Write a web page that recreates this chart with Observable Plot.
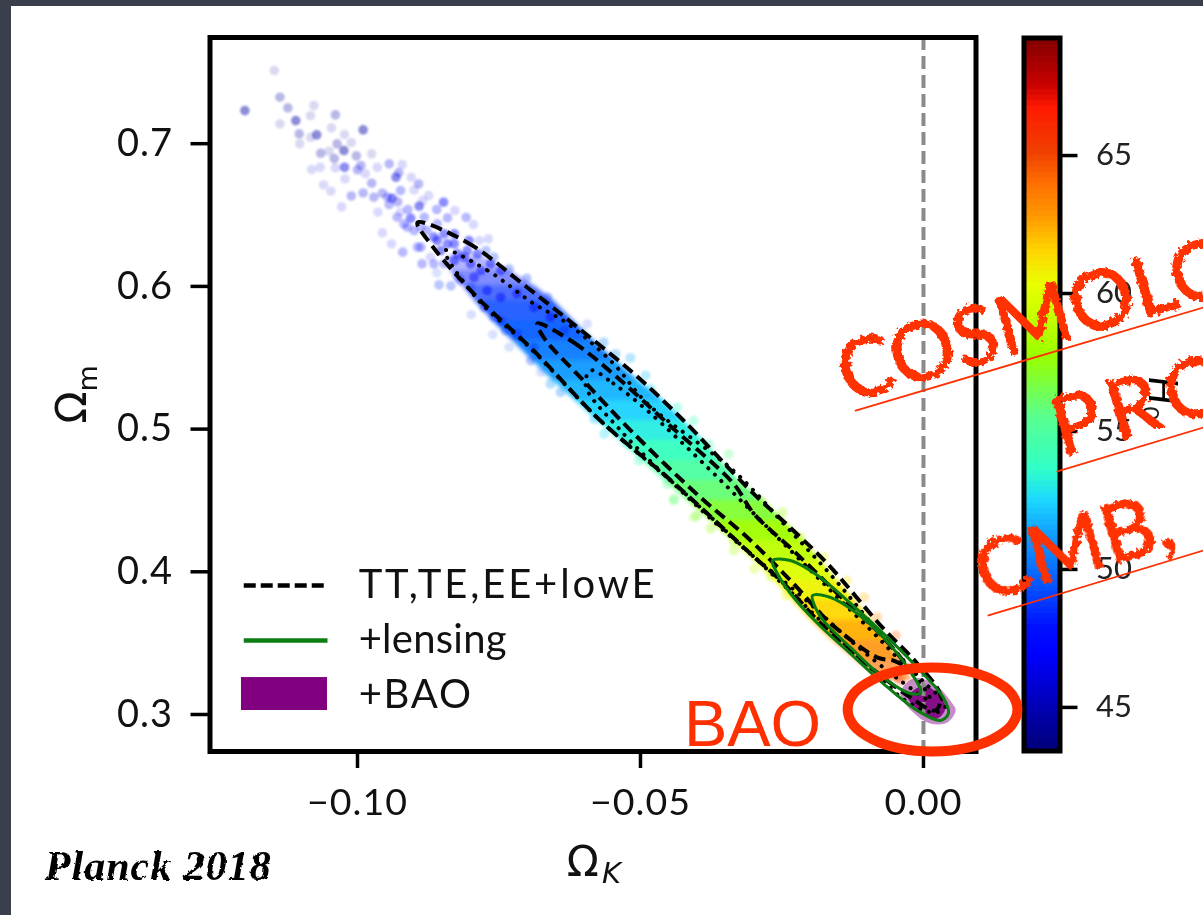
<!DOCTYPE html>
<html>
<head>
<meta charset="utf-8">
<script src="https://cdn.jsdelivr.net/npm/d3@7"></script>
<script src="https://cdn.jsdelivr.net/npm/@observablehq/plot@0.6"></script>
<style>
html,body{margin:0;padding:0;background:#3b3e4b;width:1203px;height:915px;overflow:hidden}
#sheet{position:absolute;left:11px;top:6px;right:0;bottom:0;background:#fff}
#bar,#main{position:absolute;left:0;top:0}
#bar svg,#main svg{display:block;background:transparent;filter:blur(.4px)}
</style>
</head>
<body>
<svg width="0" height="0" style="position:absolute">
  <filter id="rough" x="-10%" y="-30%" width="120%" height="160%">
    <feTurbulence type="fractalNoise" baseFrequency="0.22" numOctaves="2" seed="4"/>
    <feDisplacementMap in="SourceGraphic" scale="8"/>
  </filter>
  <filter id="ink" x="-5%" y="-20%" width="110%" height="140%">
    <feTurbulence type="fractalNoise" baseFrequency="0.2" numOctaves="2" seed="9"/>
    <feDisplacementMap in="SourceGraphic" scale="3"/>
  </filter>
</svg>
<div id="sheet"></div>
<div id="bar"></div>
<div id="main"></div>
<script>
// colour scale: Hubble-constant stops
const h0Stops = [43.55,46.8,47.8,49.9,51.2,52.4,53.5,55.4,57.57,60.2,61.45,62.64,63.84,65,66.63,67.46,69.17];
const h0Colors = ["#000080","#0000ff","#0010ff","#0870ff","#10a0ff","#1cd8ff","#30ffc8","#58ff90","#98ff00","#e8ff00","#ffd500","#ff9a00","#ff7000","#f04000","#ff1a00","#c80000","#800000"];
const h0Ticks = [45,50,55,60,65];
const xTicks = [-0.10,-0.05,0];
const yTicks = [0.3,0.4,0.5,0.6,0.7];

// sparse scatter, upper left: [Omega_K, Omega_m, weight class]
const dotsNavy = [[-.1147,.7513,1],[-.1137,.7326,2],[-.1199,.7232,3],[-.1123,.7251,2],[-.1077,.7267,1],[-.1039,.7202,2],[-.1109,.7162,3],[-.1083,.7197,1],[-.1137,.7139,1],[-.1046,.7111,1],[-.0990,.7097,3],[-.1103,.7069,2],[-.1072,.7062,3],[-.1023,.7064,1],[-.1083,.7045,1],[-.1102,.6999,1],[-.1036,.6999,2],[-.1011,.7008,1],[-.1024,.6952,3],[-.1065,.6933,2],[-.1002,.6915,2],[-.1041,.6896,2],[-.0975,.6929,1],[-.1050,.6947,1]];
const dotsIndigo = [[-.1023,.6835,3],[-.1081,.6819,1],[-.1066,.6835,1],[-.1039,.6831,1],[-.0994,.6847,2],[-.1000,.6817,2],[-.0944,.6859,2],[-.0921,.6854,1],[-.0965,.6835,1],[-.0927,.6798,2],[-.0932,.6765,3],[-.0986,.6789,1],[-.0905,.6765,1],[-.0892,.6718,2],[-.1060,.6711,1],[-.1022,.6753,1],[-.0975,.6723,2],[-.1047,.6667,1],[-.0990,.6655,2],[-.1011,.6634,2],[-.0956,.6653,2],[-.0939,.6618,3],[-.0971,.6625,2],[-.0900,.6676,1],[-.0929,.6592,2],[-.0891,.6562,3],[-.0874,.6637,1],[-.0885,.6602,1]];
const dotsBlue = [[-.0848,.6590,3],[-.0860,.6539,2],[-.1028,.6557,1],[-.0964,.6520,1],[-.0944,.6574,2],[-.0911,.6539,2],[-.0828,.6532,1],[-.0841,.6480,2],[-.0808,.6483,2],[-.0906,.6478,3],[-.0924,.6520,1],[-.0918,.6438,2],[-.0795,.6433,1],[-.0956,.6375,1],[-.0888,.6415,2],[-.0859,.6438,2],[-.0829,.6368,3],[-.0803,.6321,3],[-.0769,.6333,1],[-.0785,.6321,1],[-.0940,.6298,1],[-.0920,.6240,2],[-.0888,.6275,2],[-.0886,.6158,2],[-.0859,.6321,3],[-.0841,.6298,3],[-.0871,.6205,1],[-.0853,.6251,3],[-.0823,.6228,3],[-.0800,.6158,3]];
const dotsRoyal = [[-.0860,.6095,1],[-.0856,.6011,2],[-.0835,.6004,2],[-.0823,.6064,2],[-.0773,.6251,2],[-.0759,.6205,2],[-.0732,.6123,2],[-.0701,.6057,2],[-.0800,.5994,2],[-.0799,.5803,1],[-.0761,.5663,1],[-.0738,.5691,2],[-.0732,.5574,1],[-.0694,.5480,2],[-.0759,.5784,2],[-.0676,.5399,1],[-.0664,.5924,2],[-.0594,.5737,1]];
const dotsCore = [[-.0894,.6275,2],[-.0865,.6345,3],[-.0877,.6391,2],[-.0900,.6391,2],[-.0865,.6158,2],[-.0847,.6158,2],[-.0829,.6181,3],[-.0812,.6205,3],[-.0788,.6228,3],[-.0829,.6298,3],[-.0806,.6251,3],[-.0782,.6111,3],[-.0765,.6158,3],[-.0747,.6111,3],[-.0818,.6041,2],[-.0794,.6064,3],[-.0771,.5971,3],[-.0747,.5924,3],[-.0718,.5948,3],[-.0688,.5854,3],[-.0776,.5854,2],[-.0747,.5761,2],[-.0718,.5667,2],[-.0688,.5574,2],[-.0659,.5784,3],[-.0635,.5691,2],[-.0847,.6368,3],[-.0882,.6485,2],[-.0912,.6415,2],[-.0930,.6485,2],[-.0947,.6625,2],[-.0924,.6672,2]];
const haloWeights = [0,0.15,0.28,0.45];
const h0Navy = 44.6, h0Indigo = 46, h0Blue = 47, h0Royal = 48.6, h0Core = 47.2;

// edge dots of the band: [Omega_K, Omega_m, H0]
const edgeDots = [[-.0659,.5317,51],[-.0641,.5258,50.5],[-.0565,.5609,50.5],[-.0544,.5527,51],[-.0518,.5499,51.5],[-.0491,.5375,52],[-.0482,.5282,52.5],[-.0435,.5153,53.5],[-.0406,.5060,54],[-.0379,.4896,54.5],[-.0344,.4826,55.5],[-.0582,.5071,52],[-.0564,.4966,52.5],[-.0524,.4896,53],[-.0503,.4779,54],[-.0453,.4616,55],[-.0441,.4499,55.5],[-.0400,.4394,56.5],[-.0376,.4301,57.5],[-.0335,.4149,58],[-.0441,.4512,56],[-.0405,.4383,57],[-.0335,.4208,58],[-.0299,.4021,59],[-.0270,.3963,59.5],[-.0243,.3834,60.5],[-.0288,.4500,57.5],[-.0249,.4418,58],[-.0217,.4243,59],[-.0176,.4103,60],[-.0135,.3939,61],[-.0105,.3822,62],[-.0082,.3682,63],[-.0049,.3554,64],[-.0046,.3402,65],[-.0029,.3332,66],[-.0046,.3262,66],[-.0040,.3238,66]];

// dense band, one cross-section per row of these arrays
const bandM = [.6217,.6111,.6006,.5901,.5761,.5621,.5481,.5341,.5200,.5060,.4920,.4780,.4640,.4500,.4360,.4219,.4079,.3939,.3799,.3659,.3519,.3378,.3238];
const bandLeft = [-.0841,-.0836,-.0814,-.0793,-.0761,-.0726,-.0691,-.0655,-.0615,-.0576,-.0535,-.0496,-.0457,-.0417,-.0376,-.0337,-.0298,-.0263,-.0231,-.0198,-.0160,-.0118,-.0072];
const bandRight = [-.0782,-.0733,-.0689,-.0654,-.0619,-.0583,-.0543,-.0504,-.0459,-.0424,-.0389,-.0359,-.0327,-.0283,-.0247,-.0212,-.0182,-.0152,-.0121,-.0092,-.0064,-.0043,-.0019];
const bandH0 = [47.6,48,48.5,49,49.5,50.2,51,51.6,52.3,53,53.8,54.8,55.8,56.8,57.8,58.8,59.8,60.6,61.4,62.2,63,63.8,64.5];
const bandAlpha = [.3,.5,.7,.85,.95,.95,.95,.95,.95,.95,.95,.95,.95,.95,.95,.95,.95,.95,.95,.95,.85,.65,.35];

// confidence contours
const tt95K = [-.0894,-.0806,-.0700,-.0611,-.0512,-.0424,-.0306,-.0230,-.0170,-.0071,-.0011,.0030,.0021,-.0023,-.0071,-.0129,-.0187,-.0247,-.0306,-.0382,-.0452,-.0571,-.0689,-.0788,-.0866];
const tt95M = [.6448,.6308,.5992,.5712,.5390,.5060,.4570,.4289,.4058,.3603,.3357,.3133,.3028,.3119,.3259,.3448,.3659,.3918,.4128,.4409,.4661,.5060,.5551,.5922,.6273];
const tt68K = [-.0682,-.0618,-.0541,-.0452,-.0336,-.0300,-.0230,-.0152,-.0071,-.0032,-.0053,-.0081,-.0164,-.0230,-.0311,-.0394,-.0512,-.0601,-.0671];
const tt68M = [.5740,.5607,.5362,.5039,.4619,.4409,.4149,.3848,.3540,.3343,.3378,.3399,.3638,.3918,.4240,.4521,.4969,.5341,.5642];
const dot95K = [-.0845,-.0770,-.0689,-.0629,-.0548,-.0488,-.0336,-.0244,-.0155,-.0067,-.0002,.0039,.0021,-.0032,-.0085,-.0173,-.0261,-.0350,-.0447,-.0571,-.0694,-.0792];
const dot95M = [.6252,.6111,.5880,.5740,.5460,.5179,.4710,.4324,.3939,.3519,.3238,.3063,.3014,.3098,.3294,.3624,.3960,.4289,.4640,.5060,.5565,.5929];
const dot68K = [-.0588,-.0548,-.0488,-.0376,-.0270,-.0164,-.0067,.0004,.0012,-.0041,-.0129,-.0217,-.0323,-.0429,-.0535,-.0597];
const dot68M = [.5411,.5320,.5130,.4710,.4289,.3869,.3484,.3168,.3098,.3238,.3519,.3834,.4184,.4570,.4990,.5306];
const lens95K = [-.0267,-.0235,-.0187,-.0129,-.0071,-.0011,.0035,.0044,.0030,-.0011,-.0071,-.0129,-.0187,-.0235,-.0261];
const lens95M = [.4079,.4079,.3974,.3778,.3568,.3329,.3119,.3007,.2958,.3028,.3217,.3427,.3638,.3848,.4009];
const lens68K = [-.0196,-.0164,-.0117,-.0071,-.0028,-.0005,-.0023,-.0071,-.0129,-.0177,-.0194];
const lens68M = [.3834,.3820,.3708,.3540,.3329,.3154,.3147,.3259,.3470,.3659,.3778];
const bao95K = [-.0041,-.0018,.0018,.0051,.0057,.0042,.0012,-.0018];
const bao95M = [.3147,.3252,.3217,.3077,.3028,.2944,.2937,.3014];
const bao68K = [-.0027,0,.0025,.0039,.0025,0];
const bao68M = [.3119,.3203,.3147,.3049,.2972,.3007];

// hand annotation
const ringK = [.0166,.0155,.0122,.0073,.0016,-.0042,-.0090,-.0123,-.0134,-.0123,-.0090,-.0042,.0016,.0073,.0122,.0155];
const ringM = [.3035,.3148,.3243,.3307,.3329,.3307,.3243,.3148,.3035,.2922,.2827,.2763,.2741,.2763,.2827,.2922];
const underK = [[-.0120,.04947],[.02367,.04947],[.01148,.04947]];
const underM = [[.5130,.5852],[.4703,.5011],[.3694,.4149]];
const handWords = ["COSMOLO","PRO","CMB,"];
const handK = [.02010,.03920,.02668];
const handM = [.5760,.5165,.4163];
const handSpacing = [0,8,0];
const legendLabels = ["TT,TE,EE+lowE","+lensing","+BAO"];
const legendSpacing = [2.85,0.25,1.75];
const legendM = [.3904,.3519,.3133];
const legendLineK = [-.1201,-.1053];
const legendBoxK = [-.1205,-.1053];
const legendBoxM = [.3259,.3028];
const legendTextK = -.0998;
const creditText = "Planck 2018";

const red = "#ff3000", sans = "Lato", zip = (a,b) => a.map((v,i) => ({k:v, m:b[i]}));
const colorScale = {type:"linear", domain:h0Stops, range:h0Colors, clamp:true};
const triples = (rows,h) => rows.map(r => ({k:r[0], m:r[1], h, a:haloWeights[r[2]]}));
const sparse = [...triples(dotsNavy,h0Navy),...triples(dotsIndigo,h0Indigo),...triples(dotsBlue,h0Blue),...triples(dotsRoyal,h0Royal),...triples(dotsCore,h0Core)];
const bandRows = bandM.slice(0,-1).flatMap((_,i) => [i,i+1].map(j => ({seg:i, m:bandM[j], l:bandLeft[j], r:bandRight[j], h:bandH0[i], a:bandAlpha[i]})));
const legendLine = (m,opts) => Plot.line(legendLineK.map(k => ({k,m})),{x:"k",y:"m",...opts});
const closed = (k,m,opts) => Plot.line(zip(k,m),{x:"k",y:"m",curve:"catmull-rom-closed",...opts});
const spaced = (svg,label,px) => d3.select(svg).selectAll(`g[aria-label="${label}"] text`).style("letter-spacing",px+"px");
const spaceWord = (svg,word,px) => d3.select(svg).selectAll("text").filter(function(){return this.textContent===word;}).style("letter-spacing",px+"px");
const levels = d3.range(43.4,69.26,0.2);

// colour bar
const barPlot = Plot.plot({
  width:1203, height:915,
  marginLeft:1023.5, marginRight:143.5, marginTop:37.5, marginBottom:164.5,
  x:{domain:[0,1], axis:null},
  y:{domain:[43.42,69.26], label:null},
  color:colorScale,
  style:{fontFamily:sans, background:"transparent", color:"#222"},
  marks:[
    Plot.rect(levels,{x1:0,x2:1,y1:d=>d,y2:d=>Math.min(d+0.25,69.26),fill:d=>d}),
    Plot.frame({stroke:"#000",strokeWidth:5}),
    Plot.axisY({anchor:"right",ticks:h0Ticks,tickSize:17,tickPadding:19,strokeWidth:3.5,fontSize:31,label:null,stroke:"#000"}),
    Plot.text(["H"],{x:3.82,y:56.49,text:d=>d,rotate:90,fontSize:40,fontStyle:"italic",fill:"#000"}),
    Plot.text(["0"],{x:3.5,y:55.65,text:d=>d,rotate:90,fontSize:24,fill:"#222"})
  ]
});
document.getElementById("bar").append(barPlot);

// main panel with annotation
const dashed = {stroke:"#000",strokeWidth:4,strokeDasharray:"12 6",strokeLinecap:"butt"};
const dotted = {stroke:"#000",strokeWidth:4,strokeDasharray:"0.1 9",strokeLinecap:"round"};
const mainPlot = Plot.plot({
  width:1203, height:915,
  marginLeft:209.5, marginRight:227.5, marginTop:37, marginBottom:164,
  x:{domain:[-.12606,.00928], label:null},
  y:{domain:[.27407,.77442], label:null},
  color:colorScale,
  style:{fontFamily:sans, background:"transparent", color:"#111"},
  marks:[
    Plot.dot(edgeDots.map(d => ({k:d[0],m:d[1],h:d[2]})),{x:"k",y:"m",r:5,fill:"h",fillOpacity:.3,imageFilter:"blur(1px)"}),
    Plot.areaX(bandRows,{y:"m",x1:"l",x2:"r",z:"seg",fill:"h",fillOpacity:{value:"a",scale:null},imageFilter:"blur(2px)"}),
    Plot.dot(sparse,{x:"k",y:"m",r:4.8,fill:"h",fillOpacity:{value:"a",scale:null},imageFilter:"blur(1px)"}),
    closed(bao95K,bao95M,{fill:"#800080",fillOpacity:.45,stroke:"none"}),
    closed(bao68K,bao68M,{fill:"#800080",fillOpacity:.9,stroke:"none"}),
    Plot.ruleX([0],{stroke:"#8a8a8a",strokeWidth:4,strokeDasharray:"13 6"}),
    closed(tt95K,tt95M,dashed),
    closed(tt68K,tt68M,dashed),
    closed(dot95K,dot95M,dotted),
    closed(dot68K,dot68M,dotted),
    closed(lens95K,lens95M,{stroke:"#0c7d12",strokeWidth:3}),
    closed(lens68K,lens68M,{stroke:"#0c7d12",strokeWidth:3}),
    Plot.frame({stroke:"#000",strokeWidth:5}),
    Plot.axisX({ticks:xTicks,tickSize:17,tickPadding:20,strokeWidth:3.5,fontSize:37.5,stroke:"#000",label:null,
      tickFormat:d => (d<0?"\u2212":"")+Math.abs(d).toFixed(2)}),
    Plot.axisY({ticks:yTicks,tickSize:19,tickPadding:18,strokeWidth:3.5,fontSize:38,stroke:"#000",label:null,
      tickFormat:d => d.toFixed(1)}),
    Plot.text(["\u03a9"],{x:-.0602,y:.1963,text:d=>d,fontSize:42,fontFamily:"DejaVu Sans",fill:"#111"}),
    Plot.text(["K"],{x:-.0551,y:.1886,text:d=>d,fontSize:29,fontFamily:"DejaVu Sans",fontStyle:"italic",fill:"#111"}),
    Plot.text(["\u03a9"],{x:-.1503,y:.5151,text:d=>d,rotate:-90,fontSize:42,fontFamily:"DejaVu Sans",fill:"#111"}),
    Plot.text(["m"],{x:-.1476,y:.5355,text:d=>d,rotate:-90,fontSize:27,fontFamily:"DejaVu Sans",fill:"#111"}),
    legendLine(legendM[0],{stroke:"#000",strokeWidth:4.5,strokeDasharray:"12 5",strokeLinecap:"butt"}),
    legendLine(legendM[1],{stroke:"#0c7d12",strokeWidth:4.5,strokeLinecap:"butt"}),
    Plot.rect([0],{x1:legendBoxK[0],x2:legendBoxK[1],y1:legendBoxM[0],y2:legendBoxM[1],fill:"#800080"}),
    Plot.text(legendLabels,{x:legendTextK,y:(d,i)=>legendM[i],text:d=>d,textAnchor:"start",fontSize:40,fill:"#111"}),
    Plot.text([creditText],{x:-.1352,y:.1935,text:d=>d,fontSize:42,fontStyle:"italic",fontWeight:700,fontFamily:"Liberation Serif",fill:"#000",imageFilter:"url(#ink)"}),
    Plot.text(["BAO"],{x:-.0302,y:.2923,text:d=>d,fontSize:65,fontFamily:"Liberation Sans",fill:red}),
    closed(ringK,ringM,{stroke:red,strokeWidth:10}),
    ...underK.map((k,i) => Plot.line(zip(k,underM[i]),{x:"k",y:"m",stroke:red,strokeWidth:1.8})),
    Plot.text(handWords,{x:(d,i)=>handK[i],y:(d,i)=>handM[i],text:d=>d,rotate:-16,fontSize:82,fontFamily:"Lato",fill:red,stroke:red,strokeWidth:1.5,imageFilter:"url(#rough)"})
  ]
});
document.getElementById("main").append(mainPlot);
legendLabels.forEach((w,i) => spaceWord(mainPlot,w,legendSpacing[i]));
handWords.forEach((w,i) => spaceWord(mainPlot,w,handSpacing[i]));
spaceWord(mainPlot,creditText,1);
spaced(mainPlot,"x-axis tick label",1);
spaced(mainPlot,"y-axis tick label",1);
</script>
</body>
</html>
